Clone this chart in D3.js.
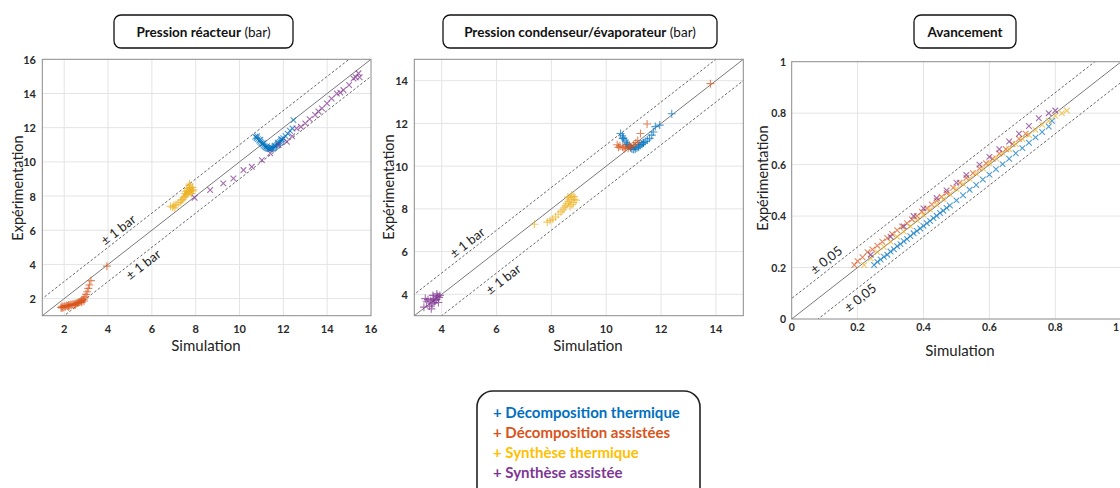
<!DOCTYPE html>
<html><head><meta charset="utf-8">
<script src="https://cdn.jsdelivr.net/npm/d3@7"></script>
<style>
html,body{margin:0;padding:0;background:#fff;}
svg{display:block;font-family:Lato,"Open Sans",sans-serif;}
</style></head>
<body>
<svg id="chart" width="1120" height="488"></svg>
<script>
// ---------- DATA ----------
const seriesNames = ["Décomposition thermique","Décomposition assistées","Synthèse thermique","Synthèse assistée"];
const seriesColors = ["#0072BD","#D95319","#EDB120","#7E2F8E"];
const legendColors = ["#0070C0","#D9531A","#FFC000","#7E3794"];

const panelTitlesBold = ["Pression réacteur","Pression condenseur/évaporateur","Avancement"];
const panelTitlesUnit = [" (bar)"," (bar)",""];
const bandLabels = ["± 1 bar","± 1 bar","± 0,05"];

const domainP1 = [1,16], ticksP1 = [2,4,6,8,10,12,14,16], bandP1 = 1;
const domainP2 = [3,15], ticksP2 = [4,6,8,10,12,14], bandP2 = 1;
const domainP3 = [0,1],  ticksP3 = [0,0.2,0.4,0.6,0.8,1], bandP3 = 0.08;

// Panel 1 : Pression réacteur
const p1DecTherm = [[10.72,11.47],[10.78,11.4],[10.84,11.33],[10.9,11.25],[10.95,11.18],[11.0,11.1],[11.05,11.03],[11.1,10.96],[11.15,10.9],[11.2,10.85],[11.25,10.81],[11.3,10.78],[11.35,10.76],[11.4,10.75],[11.45,10.76],[11.5,10.78],[11.55,10.82],[11.6,10.87],[11.65,10.92],[11.7,10.98],[11.75,11.04],[11.8,11.1],[11.85,11.16],[11.9,11.23],[11.95,11.3],[12.0,11.38],[12.1,11.5],[12.2,11.65],[12.3,11.82],[12.42,11.95],[12.46,12.44],[10.8,11.5],[10.95,11.3],[11.1,11.1],[11.25,10.92],[11.45,10.85],[11.6,10.95],[11.75,11.12],[11.9,11.32]];
const p1DecAss = [[1.85,1.48],[1.9,1.55],[1.95,1.5],[2.0,1.56],[2.05,1.52],[2.1,1.6],[2.15,1.57],[2.2,1.62],[2.25,1.6],[2.3,1.65],[2.35,1.63],[2.4,1.68],[2.45,1.66],[2.5,1.7],[2.55,1.72],[2.6,1.74],[2.65,1.77],[2.7,1.8],[2.75,1.84],[2.8,1.88],[2.85,1.93],[2.9,1.98],[2.95,2.1],[3.0,2.25],[3.05,2.4],[3.1,2.6],[3.15,2.8],[3.22,3.05],[3.95,3.9],[1.9,1.45],[2.2,1.52],[2.5,1.62],[2.8,1.78],[2.9,1.86]];
const p1SynTherm = [[6.85,7.4],[6.95,7.35],[7.0,7.45],[7.1,7.5],[7.05,7.3],[7.2,7.6],[7.3,7.65],[7.35,7.75],[7.4,7.8],[7.45,7.9],[7.5,7.95],[7.55,8.05],[7.6,8.1],[7.6,8.3],[7.65,8.2],[7.65,8.45],[7.7,8.35],[7.7,8.6],[7.75,8.25],[7.75,8.5],[7.8,8.4],[7.8,8.15],[7.85,8.3],[7.85,8.5],[7.9,8.35],[7.72,8.7],[7.55,8.25],[7.5,8.15]];
const p1SynAss = [[7.95,7.9],[8.66,8.35],[9.26,8.74],[9.72,9.03],[10.18,9.52],[10.56,9.71],[11.02,10.1],[11.4,10.5],[11.78,10.98],[12.16,11.18],[12.4,11.5],[12.6,11.96],[12.8,12.05],[13.0,12.25],[13.2,12.5],[13.45,12.74],[13.6,12.95],[13.76,13.13],[13.99,13.42],[14.2,13.7],[14.44,14.0],[14.6,14.05],[14.74,14.2],[15.0,14.5],[15.2,14.88],[15.3,14.95],[15.43,15.18],[15.48,14.95]];

// Panel 2 : Pression condenseur/évaporateur
const p2DecTherm = [[10.52,11.53],[10.58,11.42],[10.63,11.32],[10.68,11.22],[10.73,11.12],[10.78,11.03],[10.83,10.95],[10.88,10.88],[10.94,10.8],[11.0,10.78],[11.06,10.8],[11.12,10.85],[11.18,10.9],[11.24,10.96],[11.3,11.02],[11.36,11.08],[11.42,11.15],[11.5,11.22],[11.58,11.3],[11.66,11.45],[11.72,11.6],[11.79,11.85],[11.95,11.92],[12.39,12.45],[10.6,11.3],[10.75,11.0],[10.9,10.85],[11.05,10.88],[11.2,11.0],[11.35,11.1]];
const p2DecAss = [[10.4,11.0],[10.5,10.95],[10.6,10.9],[10.7,10.86],[10.8,10.84],[10.9,10.9],[11.0,11.0],[11.08,11.1],[11.15,11.2],[11.25,11.53],[11.49,11.97],[10.45,10.88],[10.65,10.8],[10.85,10.95],[13.8,13.86]];
const p2SynTherm = [[7.38,7.28],[7.85,7.38],[7.95,7.45],[8.05,7.52],[8.15,7.62],[8.25,7.75],[8.35,7.86],[8.42,7.95],[8.47,8.05],[8.52,8.15],[8.57,8.25],[8.62,8.35],[8.67,8.45],[8.72,8.55],[8.75,8.65],[8.8,8.3],[8.85,8.45],[8.6,8.55],[8.75,8.2],[8.9,8.4],[8.68,8.1],[8.82,8.58]];
const p2SynAss = [[3.35,3.4],[3.45,3.65],[3.5,3.75],[3.55,3.45],[3.6,3.7],[3.62,3.32],[3.65,3.55],[3.7,3.8],[3.72,3.6],[3.75,3.7],[3.8,3.75],[3.82,4.02],[3.85,3.9],[3.88,3.62],[3.9,3.85],[3.93,3.95],[3.4,3.8],[3.68,3.95]];

// Panel 3 : Avancement
const p3DecTherm = [[0.25,0.21],[0.26,0.222],[0.27,0.231],[0.28,0.242],[0.29,0.25],[0.3,0.262],[0.31,0.271],[0.32,0.283],[0.33,0.291],[0.34,0.302],[0.35,0.311],[0.36,0.322],[0.37,0.333],[0.38,0.342],[0.39,0.352],[0.4,0.362],[0.41,0.372],[0.42,0.381],[0.43,0.392],[0.44,0.401],[0.45,0.412],[0.46,0.421],[0.47,0.432],[0.48,0.441],[0.5,0.461],[0.52,0.481],[0.54,0.502],[0.56,0.521],[0.58,0.542],[0.6,0.561],[0.62,0.582],[0.64,0.602],[0.66,0.623],[0.68,0.644],[0.7,0.664],[0.72,0.685],[0.74,0.706],[0.76,0.727],[0.78,0.748],[0.79,0.77]];
const p3DecAss = [[0.19,0.21],[0.2,0.225],[0.215,0.24],[0.23,0.26],[0.245,0.27],[0.26,0.285],[0.275,0.3],[0.29,0.315],[0.305,0.33],[0.32,0.345],[0.335,0.36],[0.35,0.372],[0.365,0.387],[0.38,0.4],[0.395,0.417],[0.41,0.43],[0.425,0.445],[0.44,0.46],[0.455,0.475],[0.47,0.49],[0.49,0.51],[0.51,0.53],[0.53,0.548],[0.55,0.567],[0.57,0.585],[0.59,0.605],[0.61,0.623],[0.63,0.643],[0.65,0.66],[0.67,0.68],[0.69,0.7],[0.71,0.72]];
const p3SynTherm = [[0.22,0.21],[0.24,0.235],[0.26,0.26],[0.28,0.28],[0.3,0.3],[0.32,0.32],[0.34,0.34],[0.36,0.36],[0.38,0.385],[0.4,0.405],[0.42,0.425],[0.44,0.445],[0.46,0.465],[0.48,0.485],[0.5,0.505],[0.52,0.525],[0.54,0.545],[0.56,0.565],[0.58,0.585],[0.6,0.605],[0.62,0.625],[0.64,0.645],[0.66,0.66],[0.68,0.68],[0.7,0.7],[0.72,0.715],[0.74,0.735],[0.76,0.755],[0.78,0.77],[0.8,0.79],[0.82,0.8],[0.835,0.81]];
const p3SynAss = [[0.24,0.25],[0.3,0.32],[0.34,0.36],[0.37,0.4],[0.4,0.43],[0.44,0.47],[0.47,0.5],[0.5,0.53],[0.53,0.56],[0.57,0.6],[0.6,0.63],[0.63,0.66],[0.66,0.69],[0.69,0.72],[0.72,0.75],[0.75,0.78],[0.78,0.8],[0.8,0.81]];

// ---------- LAYOUT ----------
const panels = [
  {box:{x0:42.3,x1:371,y0:59.3,y1:315.7}, domain:domainP1, ticks:ticksP1, band:bandP1,
   series:[p1DecTherm,p1DecAss,p1SynTherm,p1SynAss], marker:["x","plus","plus","x"],
   title:{x0:114,x1:293}, fmt:d3.format("d"), xlabY:328, simX:206, simY:345, expX:17, expY:188,
   bandPx:[[118,-10],[143,10]], yLabX:36, tickFs:11},
  {box:{x0:414.3,x1:743.3,y0:59.3,y1:315.7}, domain:domainP2, ticks:ticksP2, band:bandP2,
   series:[p2DecTherm,p2DecAss,p2SynTherm,p2SynAss], marker:["plus","plus","plus","plus"],
   title:{x0:443,x1:717}, fmt:d3.format("d"), xlabY:328, simX:588, simY:345, expX:388, expY:187,
   bandPx:[[467,-11],[503,11]], yLabX:408, tickFs:11},
  {box:{x0:791.7,x1:1121.2,y0:61.7,y1:319}, domain:domainP3, ticks:ticksP3, band:bandP3,
   series:[p3DecTherm,p3DecAss,p3SynTherm,p3SynAss], marker:["x","x","x","x"],
   title:{x0:914,x1:1016}, fmt:d=>d===0?"0":(d===1?"1":d3.format(".1f")(d)), xlabY:327, simX:960, simY:350, expX:762, expY:178,
   bandPx:[[826,-12],[860,11]], yLabX:786, tickFs:10.5}
];

const svg = d3.select("#chart");
svg.append("rect").attr("width",1120).attr("height",488).attr("fill","#fff");

panels.forEach((p,i)=>{
  const x = d3.scaleLinear().domain(p.domain).range([p.box.x0,p.box.x1]);
  const y = d3.scaleLinear().domain(p.domain).range([p.box.y1,p.box.y0]);
  const g = svg.append("g");
  const clipId = "clip"+i;
  svg.append("clipPath").attr("id",clipId).append("rect")
    .attr("x",p.box.x0).attr("y",p.box.y0).attr("width",p.box.x1-p.box.x0).attr("height",p.box.y1-p.box.y0);

  const inner = p.ticks.filter(t=>t>p.domain[0]&&t<p.domain[1]);
  g.append("g").selectAll("line").data(inner).join("line")
    .attr("x1",d=>x(d)).attr("x2",d=>x(d)).attr("y1",p.box.y0).attr("y2",p.box.y1)
    .attr("stroke","#e4e4e4").attr("stroke-width",1);
  g.append("g").selectAll("line").data(inner).join("line")
    .attr("y1",d=>y(d)).attr("y2",d=>y(d)).attr("x1",p.box.x0).attr("x2",p.box.x1)
    .attr("stroke","#e4e4e4").attr("stroke-width",1);

  const cg = g.append("g").attr("clip-path",`url(#${clipId})`);
  const [a,b] = p.domain;
  cg.append("line").attr("x1",x(a)).attr("y1",y(a)).attr("x2",x(b)).attr("y2",y(b))
    .attr("stroke","#7a7a7a").attr("stroke-width",1);
  [p.band,-p.band].forEach(o=>{
    const e = Math.abs(o)*2;
    cg.append("line").attr("x1",x(a-e)).attr("y1",y(a-e+o)).attr("x2",x(b+e)).attr("y2",y(b+e+o))
      .attr("stroke","#555").attr("stroke-width",0.9).attr("stroke-dasharray","2.5,2");
  });

  const plus = "M-4,0H4M0,-4V4";
  p.series.forEach((s,k)=>{
    cg.append("g").selectAll("path").data(s).join("path")
      .attr("d",plus)
      .attr("transform",d=>`translate(${x(d[0])},${y(d[1])})`+(p.marker[k]==="x"?" rotate(45)":""))
      .attr("stroke",seriesColors[k]).attr("stroke-width",1.1).attr("fill","none").attr("stroke-opacity",0.7);
  });

  g.append("rect").attr("x",p.box.x0).attr("y",p.box.y0).attr("width",p.box.x1-p.box.x0).attr("height",p.box.y1-p.box.y0)
    .attr("fill","none").attr("stroke","#8a8a8a").attr("stroke-width",1);

  const ang = -Math.atan((y(a)-y(b))/(x(b)-x(a)))*180/Math.PI;
  p.bandPx.forEach((bp,j)=>{
    const off = j===0?p.band:-p.band;
    const xv = x.invert(bp[0]);
    const py = y(xv+off) + bp[1];
    g.append("text").attr("transform",`translate(${bp[0]},${py}) rotate(${ang})`)
      .attr("text-anchor","middle").attr("dominant-baseline","central")
      .attr("font-size",13).attr("fill","#222").text(bandLabels[i]);
  });

  g.append("g").selectAll("text").data(p.ticks).join("text")
    .attr("x",d=>Math.min(x(d),1119)).attr("y",p.xlabY)
    .attr("text-anchor",d=>x(d)>1112?"end":"middle").attr("dominant-baseline","central")
    .attr("font-size",p.tickFs).attr("font-weight","bold").attr("fill","#2a2a2a").text(p.fmt);
  g.append("g").selectAll("text").data(p.ticks).join("text")
    .attr("x",p.yLabX).attr("y",d=>y(d)).attr("text-anchor","end").attr("dominant-baseline","central")
    .attr("font-size",p.tickFs).attr("font-weight","bold").attr("fill","#2a2a2a").text(p.fmt);

  g.append("text").attr("x",p.simX).attr("y",p.simY).attr("text-anchor","middle").attr("dominant-baseline","central")
    .attr("font-size",15).attr("fill","#222").text("Simulation");
  g.append("text").attr("transform",`translate(${p.expX},${p.expY}) rotate(-90)`).attr("text-anchor","middle")
    .attr("dominant-baseline","central").attr("font-size",14.5).attr("fill","#222").text("Expérimentation");

  g.append("rect").attr("x",p.title.x0).attr("y",15).attr("width",p.title.x1-p.title.x0).attr("height",33)
    .attr("rx",7).attr("fill","#fff").attr("stroke","#111").attr("stroke-width",1.3);
  const tt = g.append("text").attr("x",(p.title.x0+p.title.x1)/2).attr("y",32).attr("text-anchor","middle")
    .attr("dominant-baseline","central").attr("font-size",13.5).attr("fill","#111");
  tt.append("tspan").attr("font-weight","bold").text(panelTitlesBold[i]);
  if (panelTitlesUnit[i]) tt.append("tspan").text(panelTitlesUnit[i]);
});

const lg = svg.append("g");
lg.append("rect").attr("x",477).attr("y",391).attr("width",223).attr("height",120).attr("rx",16)
  .attr("fill","#fff").attr("stroke","#222").attr("stroke-width",1.6);
lg.selectAll("text").data(seriesNames).join("text")
  .attr("x",493).attr("y",(d,i)=>412+i*20).attr("dominant-baseline","central")
  .attr("font-size",15).attr("font-weight","bold").attr("fill",(d,i)=>legendColors[i])
  .text(d=>"+ "+d);
</script>
</body></html>
